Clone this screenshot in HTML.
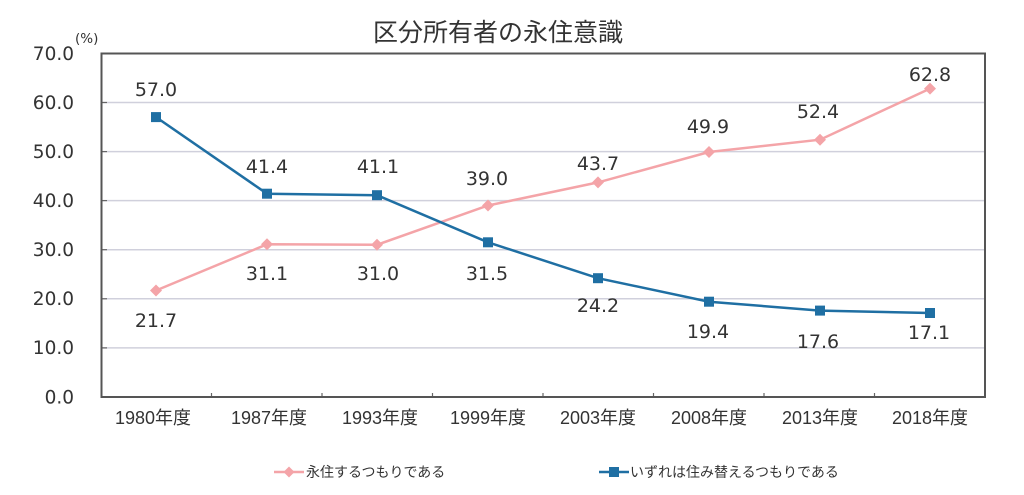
<!DOCTYPE html>
<html><head><meta charset="utf-8"><style>
html,body{margin:0;padding:0;background:#fff;}
svg{display:block;}
</style></head><body>
<svg width="1024" height="495" viewBox="0 0 1024 495" xmlns="http://www.w3.org/2000/svg">
<rect width="1024" height="495" fill="#fff"/>
<text x="498" y="41" text-anchor="middle" font-family="'Liberation Sans','Noto Sans CJK JP',sans-serif" font-size="25" fill="#333">区分所有者の永住意識</text>
<g stroke="#d0d0dc" stroke-width="1.5">
<line x1="101" y1="102.5" x2="985" y2="102.5"/>
<line x1="101" y1="151.6" x2="985" y2="151.6"/>
<line x1="101" y1="200.6" x2="985" y2="200.6"/>
<line x1="101" y1="249.7" x2="985" y2="249.7"/>
<line x1="101" y1="298.8" x2="985" y2="298.8"/>
<line x1="101" y1="347.9" x2="985" y2="347.9"/>
</g>
<g stroke="#666" stroke-width="1.2">
<line x1="101" y1="102.5" x2="107" y2="102.5"/>
<line x1="101" y1="151.6" x2="107" y2="151.6"/>
<line x1="101" y1="200.6" x2="107" y2="200.6"/>
<line x1="101" y1="249.7" x2="107" y2="249.7"/>
<line x1="101" y1="298.8" x2="107" y2="298.8"/>
<line x1="101" y1="347.9" x2="107" y2="347.9"/>
<line x1="211.5" y1="397" x2="211.5" y2="393"/>
<line x1="322" y1="397" x2="322" y2="393"/>
<line x1="432.5" y1="397" x2="432.5" y2="393"/>
<line x1="543" y1="397" x2="543" y2="393"/>
<line x1="653.5" y1="397" x2="653.5" y2="393"/>
<line x1="764" y1="397" x2="764" y2="393"/>
<line x1="874.5" y1="397" x2="874.5" y2="393"/>
</g>
<rect x="101.5" y="53.5" width="883.5" height="343.5" fill="none" stroke="#555" stroke-width="2"/>
<g font-family="'DejaVu Sans',sans-serif" font-size="18.5" fill="#333" text-anchor="end">
<text x="74" y="60">70.0</text>
<text x="74" y="109">60.0</text>
<text x="74" y="158">50.0</text>
<text x="74" y="207">40.0</text>
<text x="74" y="256">30.0</text>
<text x="74" y="305">20.0</text>
<text x="74" y="354">10.0</text>
<text x="74" y="403.5">0.0</text>
</g>
<text x="75" y="43" font-family="'DejaVu Sans',sans-serif" font-size="13.5" fill="#333">(%)</text>
<g font-family="'Liberation Sans','Noto Sans CJK JP',sans-serif" font-size="18" fill="#333" text-anchor="middle">
<text x="153" y="424">1980年度</text>
<text x="269" y="424">1987年度</text>
<text x="380" y="424">1993年度</text>
<text x="488" y="424">1999年度</text>
<text x="598" y="424">2003年度</text>
<text x="709" y="424">2008年度</text>
<text x="820" y="424">2013年度</text>
<text x="930" y="424">2018年度</text>
</g>
<polyline fill="none" stroke="#f4a4a8" stroke-width="2.5" points="156,290.5 267,244.3 377,244.8 488,205.5 598,182.4 709,152 820,139.7 930,88.6"/>
<g fill="#f4a4a8">
<polygon points="156,284.5 162,290.5 156,296.5 150,290.5"/>
<polygon points="267,238.3 273,244.3 267,250.3 261,244.3"/>
<polygon points="377,238.8 383,244.8 377,250.8 371,244.8"/>
<polygon points="488,199.5 494,205.5 488,211.5 482,205.5"/>
<polygon points="598,176.4 604,182.4 598,188.4 592,182.4"/>
<polygon points="709,146 715,152 709,158 703,152"/>
<polygon points="820,133.7 826,139.7 820,145.7 814,139.7"/>
<polygon points="930,82.6 936,88.6 930,94.6 924,88.6"/>
</g>
<polyline fill="none" stroke="#1f6fa3" stroke-width="2.5" points="156,117.1 267,193.7 377,195.2 488,242.3 598,278.2 709,301.7 820,310.6 930,313"/>
<g fill="#1f6fa3">
<rect x="151" y="112.1" width="10" height="10"/>
<rect x="262" y="188.7" width="10" height="10"/>
<rect x="372" y="190.2" width="10" height="10"/>
<rect x="483" y="237.3" width="10" height="10"/>
<rect x="593" y="273.2" width="10" height="10"/>
<rect x="704" y="296.7" width="10" height="10"/>
<rect x="815" y="305.6" width="10" height="10"/>
<rect x="925" y="308" width="10" height="10"/>
</g>
<g font-family="'DejaVu Sans',sans-serif" font-size="19" fill="#333" text-anchor="middle">
<text x="156" y="96">57.0</text>
<text x="267" y="173">41.4</text>
<text x="378" y="173">41.1</text>
<text x="487" y="185">39.0</text>
<text x="598" y="170">43.7</text>
<text x="708" y="133">49.9</text>
<text x="818" y="118">52.4</text>
<text x="930" y="81">62.8</text>
<text x="156" y="327">21.7</text>
<text x="267" y="280">31.1</text>
<text x="378" y="280">31.0</text>
<text x="487" y="280">31.5</text>
<text x="598" y="312">24.2</text>
<text x="708" y="338">19.4</text>
<text x="818" y="348">17.6</text>
<text x="929" y="339">17.1</text>
</g>
<line x1="274" y1="472" x2="304" y2="472" stroke="#f4a4a8" stroke-width="2.5"/>
<polygon points="289,466.5 294.5,472 289,477.5 283.5,472" fill="#f4a4a8"/>
<text x="306" y="477" font-family="'Liberation Sans','Noto Sans CJK JP',sans-serif" font-size="14" fill="#333">永住するつもりである</text>
<line x1="599" y1="472" x2="629" y2="472" stroke="#1f6fa3" stroke-width="2.5"/>
<rect x="609" y="467" width="10" height="10" fill="#1f6fa3"/>
<text x="630" y="477" font-family="'Liberation Sans','Noto Sans CJK JP',sans-serif" font-size="14" fill="#333">いずれは住み替えるつもりである</text>
</svg>
</body></html>
